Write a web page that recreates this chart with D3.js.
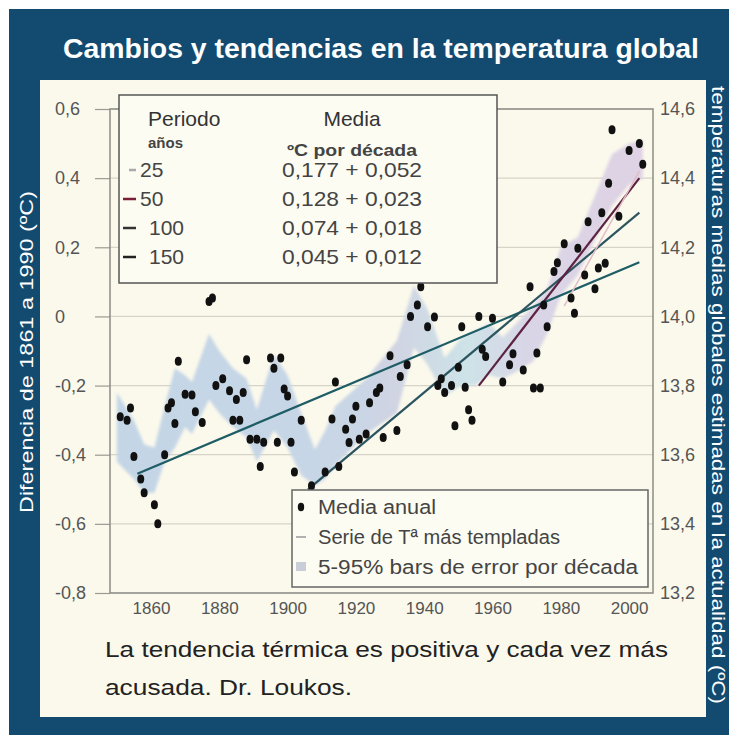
<!DOCTYPE html>
<html>
<head>
<meta charset="utf-8">
<script src="https://cdn.jsdelivr.net/npm/d3@7"></script>
<style>
  body { margin: 0; background: #fff; }
  svg { display: block; font-family: "Liberation Sans", Arial, sans-serif; }
</style>
</head>
<body>
<svg id="chart" width="737" height="742"></svg>
<script>
// annual means (anomaly vs 1961-1990, ºC)
var dotYears = [1851,1853,1854,1855,1857,1858,1861,1862,1864,1865,1866,1867,1868,1870,1872,1873,1875,1877,1878,1879,
  1881,1883,1884,1885,1886,1887,1888,1889,1891,1892,1893,1895,1896,1897,1898,1899,1900,1901,1902,1904,
  1907,1911,1913,1914,1915,1917,1918,1919,1920,1921,1923,1924,1926,1927,1928,1930,1932,1933,1935,1936,
  1938,1939,1941,1943,1944,1945,1946,1948,1949,1950,1951,1952,1953,1954,1956,1957,1958,1960,1963,1965,
  1966,1969,1971,1972,1973,1974,1975,1976,1978,1979,1981,1983,1984,1985,1987,1988,1990,1991,1992,1993,
  1994,1995,1997,2000,2003,2004];
var dotValues = [-0.29,-0.30,-0.265,-0.405,-0.47,-0.51,-0.545,-0.60,-0.40,-0.265,-0.25,-0.31,-0.13,-0.225,-0.227,-0.276,-0.307,0.043,0.053,-0.20,
  -0.18,-0.215,-0.30,-0.24,-0.30,-0.22,-0.125,-0.355,-0.355,-0.434,-0.364,-0.12,-0.15,-0.364,-0.12,-0.21,-0.23,-0.364,-0.45,-0.30,
  -0.49,-0.45,-0.297,-0.19,-0.434,-0.326,-0.365,-0.297,-0.26,-0.355,-0.34,-0.25,-0.22,-0.207,-0.35,-0.114,-0.33,-0.174,-0.14,0.0,
  0.033,0.086,-0.03,-0.002,-0.20,-0.18,-0.22,-0.20,-0.316,-0.147,-0.03,-0.205,-0.27,-0.30,0.0,-0.095,-0.116,-0.005,-0.19,-0.14,
  -0.108,-0.155,0.086,-0.207,-0.106,-0.207,0.033,-0.03,0.13,0.155,0.21,0.053,0.009,0.197,0.12,0.274,0.08,0.14,0.30,0.154,
  0.385,0.54,0.29,0.48,0.50,0.44];

// 5-95% decadal error band
var bandYears = [1850,1855,1858,1861,1864,1867,1870,1872,1877,1880,1884,1888,1891,1896,1900,1904,1908,1911,1914,1923,
  1932,1937,1941,1946,1951,1955,1959,1963,1967,1972,1976,1980,1985,1990,1995,2000,2004];
var bandUpper = [-0.22,-0.30,-0.37,-0.38,-0.26,-0.15,-0.17,-0.19,-0.05,-0.10,-0.15,-0.18,-0.27,-0.11,-0.17,-0.28,-0.385,-0.33,-0.26,-0.18,
  -0.07,0.09,0.02,-0.12,-0.06,-0.04,-0.02,-0.06,-0.02,0.03,0.08,0.20,0.23,0.35,0.47,0.50,0.51];
var bandLower = [-0.42,-0.47,-0.51,-0.51,-0.42,-0.38,-0.32,-0.34,-0.24,-0.28,-0.32,-0.35,-0.42,-0.33,-0.38,-0.46,-0.49,-0.47,-0.43,-0.34,
  -0.28,-0.09,-0.14,-0.23,-0.20,-0.20,-0.17,-0.18,-0.16,-0.13,-0.05,0.06,0.12,0.22,0.32,0.38,0.40];

// linear trends
var trendPeriods = ["25", "50", "100", "150"];
var trendRates = ["0,177", "0,128", "0,074", "0,045"];
var trendErrors = ["0,052", "0,023", "0,018", "0,012"];
var trendStartYear = [1981, 1956, 1906, 1856];
var trendEndYear = [2003, 2003, 2003, 2003];
var trendStartValue = [0.03, -0.20, -0.50, -0.455];
var trendEndValue = [0.42, 0.40, 0.30, 0.157];
var trendColors = ["#e2bcc8", "#5c2242", "#2c5560", "#1e5d66"];
var trendKeyColors = ["#aaaaaa", "#7a1f35", "#333333", "#222222"];

var leftTicks = [0.6, 0.4, 0.2, 0, -0.2, -0.4, -0.6, -0.8];
var rightTicks = [14.6, 14.4, 14.2, 14.0, 13.8, 13.6, 13.4, 13.2];
var yearTicks = [1860, 1880, 1900, 1920, 1940, 1960, 1980, 2000];

var svg = d3.select("#chart");
var plot = { left: 110, right: 653, top: 109, bottom: 593 };

var x = d3.scaleLinear().domain([1848, 2007]).range([plot.left, plot.right]);
var y = d3.scaleLinear().domain([-0.8, 0.6]).range([plot.bottom, plot.top]);
var yR = d3.scaleLinear().domain([13.2, 14.6]).range([plot.bottom, plot.top]);

function comma(v, d) { return v === 0 ? "0" : v.toFixed(d).replace(".", ","); }

// backgrounds
svg.append("rect").attr("x", 9).attr("y", 9).attr("width", 720).attr("height", 726).attr("fill", "#134b70");
svg.append("rect").attr("x", 40).attr("y", 80).attr("width", 666).attr("height", 637).attr("fill", "#fbf9ec");

svg.append("text")
  .attr("x", 381).attr("y", 58)
  .attr("text-anchor", "middle")
  .attr("fill", "#ffffff")
  .attr("font-size", 27).attr("font-weight", "bold")
  .attr("textLength", 636).attr("lengthAdjust", "spacingAndGlyphs")
  .text("Cambios y tendencias en la temperatura global");

// grid
svg.append("g").selectAll("line").data(leftTicks).join("line")
  .attr("x1", plot.left).attr("x2", plot.right)
  .attr("y1", d => y(d)).attr("y2", d => y(d))
  .attr("stroke", "#d6d4c8").attr("stroke-width", 1.2);

// left axis
var gL = svg.append("g").attr("transform", "translate(" + plot.left + ",0)")
  .call(d3.axisLeft(y).tickValues(leftTicks).tickSize(15).tickSizeOuter(0).tickFormat(d => comma(d, 1)));
gL.select(".domain").remove();
gL.selectAll(".tick line").attr("stroke", "#9a9a92").attr("stroke-width", 1.2);
gL.selectAll(".tick text").attr("x", -55).attr("text-anchor", "start")
  .attr("font-size", 18).attr("fill", "#555").attr("font-family", "Liberation Sans, Arial, sans-serif");

// right axis
var gR = svg.append("g").attr("transform", "translate(" + plot.right + ",0)")
  .call(d3.axisRight(yR).tickValues(rightTicks).tickSize(0).tickPadding(7).tickFormat(d => comma(d, 1)));
gR.select(".domain").remove();
gR.selectAll(".tick text").attr("font-size", 18).attr("fill", "#555").attr("font-family", "Liberation Sans, Arial, sans-serif");

// bottom axis
var gB = svg.append("g").attr("transform", "translate(0," + plot.bottom + ")")
  .call(d3.axisBottom(x).tickValues(yearTicks).tickSize(0).tickPadding(9).tickFormat(d3.format("d")));
gB.select(".domain").remove();
gB.selectAll(".tick text").attr("font-size", 17).attr("fill", "#555").attr("font-family", "Liberation Sans, Arial, sans-serif");

// error band
var defs = svg.append("defs");
var grad = defs.append("linearGradient").attr("id", "bandGrad")
  .attr("gradientUnits", "userSpaceOnUse")
  .attr("x1", x(1850)).attr("x2", x(2005)).attr("y1", 0).attr("y2", 0);
[["0%", "#c3d5e6"], ["45%", "#c8d6e6"], ["52%", "#d0d3e2"], ["66%", "#cde3e8"], ["78%", "#d9d5e6"], ["100%", "#dfd2e4"]]
  .forEach(s => grad.append("stop").attr("offset", s[0]).attr("stop-color", s[1]));
defs.append("filter").attr("id", "soft").attr("x", "-5%").attr("y", "-10%").attr("width", "110%").attr("height", "120%")
  .append("feGaussianBlur").attr("stdDeviation", 1.6);

var band = d3.area()
  .x((d, i) => x(bandYears[i]))
  .y0((d, i) => y(bandLower[i]))
  .y1((d, i) => y(bandUpper[i]));
svg.append("path").datum(bandYears).attr("d", band).attr("fill", "url(#bandGrad)").attr("filter", "url(#soft)");

// frame
svg.append("rect")
  .attr("x", plot.left).attr("y", plot.top)
  .attr("width", plot.right - plot.left).attr("height", plot.bottom - plot.top)
  .attr("fill", "none").attr("stroke", "#8c8c86").attr("stroke-width", 1.5);

// trend lines (150 first, 25 last)
var line = d3.line().x(d => x(d[0])).y(d => y(d[1]));
[3, 2, 1, 0].forEach(function (i) {
  svg.append("path")
    .datum([[trendStartYear[i], trendStartValue[i]], [trendEndYear[i], trendEndValue[i]]])
    .attr("d", line).attr("fill", "none")
    .attr("stroke", trendColors[i]).attr("stroke-width", i === 0 ? 1.5 : 2.2);
});

// annual dots
svg.append("g").selectAll("ellipse").data(dotYears).join("ellipse")
  .attr("cx", d => x(d))
  .attr("cy", (d, i) => y(dotValues[i]))
  .attr("rx", 3.5).attr("ry", 4.5)
  .attr("fill", "#111");

// legend: trends
var lg = svg.append("g");
lg.append("rect").attr("x", 119).attr("y", 95).attr("width", 378).attr("height", 188)
  .attr("fill", "#fdfcf2").attr("stroke", "#555").attr("stroke-width", 1.5);
lg.append("text").attr("x", 148).attr("y", 126).attr("font-size", 21).attr("fill", "#333").text("Periodo");
lg.append("text").attr("x", 148).attr("y", 148).attr("font-size", 15).attr("font-weight", "bold").attr("fill", "#444").text("años");
lg.append("text").attr("x", 352).attr("y", 126).attr("font-size", 21).attr("fill", "#333").attr("text-anchor", "middle").text("Media");
lg.append("text").attr("x", 352).attr("y", 156).attr("font-size", 16).attr("font-weight", "bold").attr("fill", "#444")
  .attr("text-anchor", "middle").attr("textLength", 130).attr("lengthAdjust", "spacingAndGlyphs").text("ºC por década");
var rows = lg.selectAll("g.row").data(trendPeriods).join("g").attr("class", "row")
  .attr("transform", (d, i) => "translate(0," + (177 + i * 29) + ")");
rows.append("line").attr("x1", (d, i) => i === 0 ? 129 : 123).attr("x2", 136).attr("y1", -7).attr("y2", -7)
  .attr("stroke", (d, i) => trendKeyColors[i]).attr("stroke-width", 2.5);
rows.append("text").attr("x", (d, i) => i < 2 ? 140 : 149).attr("font-size", 21).attr("fill", "#444").text(d => d);
rows.append("text").attr("x", 352).attr("text-anchor", "middle").attr("font-size", 21).attr("fill", "#444")
  .attr("textLength", 140).attr("lengthAdjust", "spacingAndGlyphs")
  .text((d, i) => trendRates[i] + " + " + trendErrors[i]);

// legend: symbols
var lg2 = svg.append("g");
lg2.append("rect").attr("x", 292).attr("y", 490).attr("width", 356).attr("height", 97)
  .attr("fill", "#fdfcf2").attr("stroke", "#666").attr("stroke-width", 1.5);
lg2.append("ellipse").attr("cx", 301).attr("cy", 507).attr("rx", 3.2).attr("ry", 4.2).attr("fill", "#111");
lg2.append("line").attr("x1", 296).attr("x2", 306).attr("y1", 537).attr("y2", 537).attr("stroke", "#999").attr("stroke-width", 1.5);
lg2.append("rect").attr("x", 296).attr("y", 562).attr("width", 10).attr("height", 9).attr("fill", "#c9cdd8");
var lgTexts = [["Media anual", 514, 118], ["Serie de Tª más templadas", 544, 242], ["5-95% bars de error por década", 574, 320]];
lg2.selectAll("text").data(lgTexts).join("text")
  .attr("x", 318).attr("y", d => d[1]).attr("font-size", 20).attr("fill", "#444")
  .attr("textLength", d => d[2]).attr("lengthAdjust", "spacingAndGlyphs")
  .text(d => d[0]);

// axis titles
svg.append("text")
  .attr("transform", "translate(33,352) rotate(-90)")
  .attr("text-anchor", "middle").attr("fill", "#fff").attr("font-size", 19)
  .attr("textLength", 322).attr("lengthAdjust", "spacingAndGlyphs")
  .text("Diferencia de 1861 a 1990 (ºC)");
svg.append("text")
  .attr("transform", "translate(712,395) rotate(90)")
  .attr("text-anchor", "middle").attr("fill", "#fff").attr("font-size", 19)
  .attr("textLength", 618).attr("lengthAdjust", "spacingAndGlyphs")
  .text("temperaturas medias globales estimadas en la actualidad (ºC)");

// caption
svg.append("text").attr("x", 105).attr("y", 657).attr("font-size", 22).attr("fill", "#222")
  .attr("textLength", 563).attr("lengthAdjust", "spacingAndGlyphs")
  .text("La tendencia térmica es positiva y cada vez más");
svg.append("text").attr("x", 105).attr("y", 695).attr("font-size", 22).attr("fill", "#222")
  .attr("textLength", 247).attr("lengthAdjust", "spacingAndGlyphs")
  .text("acusada. Dr. Loukos.");
</script>
</body>
</html>
